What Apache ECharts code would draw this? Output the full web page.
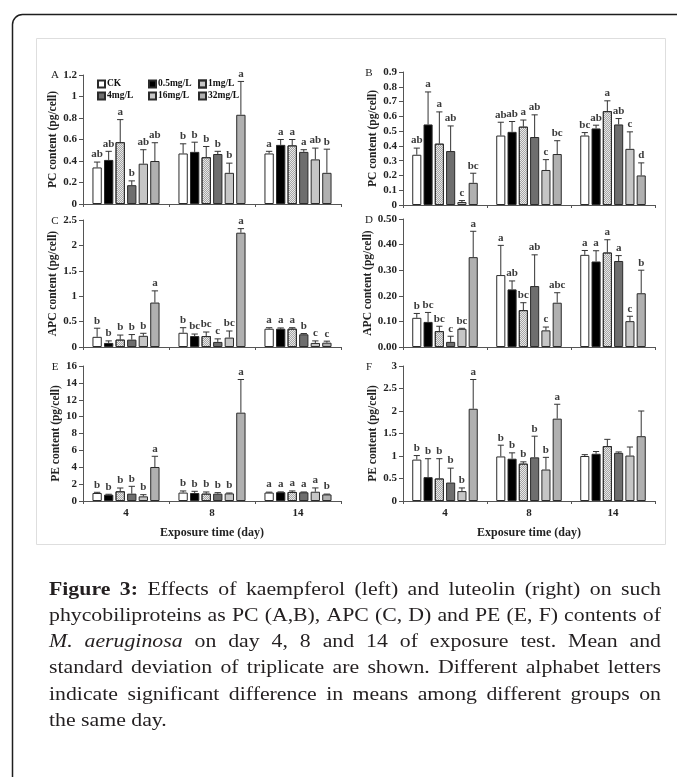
<!DOCTYPE html>
<html><head><meta charset="utf-8">
<script src="https://cdn.jsdelivr.net/npm/echarts@6/dist/echarts.min.js"></script>
<style>html,body{margin:0;padding:0;background:#fff}#c{width:677px;height:777px}</style>
</head><body><div id="c"></div>
<script>
// ---------- data ----------
const days = ['4', '8', '14'];
const groups = ['CK', '0.5mg/L', '1mg/L', '4mg/L', '16mg/L', '32mg/L'];

// rows = groups (CK .. 32mg/L), columns = days (4, 8, 14)
const A_mean = [[0.34,0.47,0.47],[0.41,0.485,0.55],[0.575,0.435,0.545],[0.175,0.465,0.485],[0.375,0.29,0.415],[0.40,0.83,0.29]];
const A_sd   = [[0.05,0.09,0.02],[0.08,0.09,0.05],[0.21,0.10,0.055],[0.04,0.025,0.02],[0.13,0.09,0.105],[0.17,0.31,0.22]];
const A_letters = [['ab','b','a'],['ab','b','a'],['a','b','a'],['b','b','a'],['ab','b','ab'],['ab','a','b']];

const B_mean = [[0.34,0.47,0.47],[0.545,0.495,0.518],[0.415,0.53,0.635],[0.365,0.46,0.545],[0.02,0.237,0.38],[0.15,0.345,0.2]];
const B_sd   = [[0.045,0.09,0.02],[0.22,0.07,0.022],[0.215,0.045,0.07],[0.17,0.15,0.04],[0.01,0.07,0.115],[0.065,0.09,0.085]];
const B_letters = [['ab','ab','bc'],['a','ab','ab'],['a','a','a'],['ab','ab','ab'],['c','c','c'],['bc','bc','d']];

const C_mean = [[0.2,0.28,0.36],[0.08,0.215,0.36],[0.145,0.215,0.36],[0.145,0.1,0.25],[0.22,0.185,0.08],[0.875,2.25,0.085]];
const C_sd   = [[0.17,0.1,0.02],[0.04,0.04,0.015],[0.09,0.08,0.02],[0.1,0.06,0.015],[0.05,0.13,0.04],[0.23,0.08,0.03]];
const C_letters = [['b','b','a'],['b','bc','a'],['b','bc','a'],['b','c','b'],['b','bc','c'],['a','a','c']];

const D_mean = [[0.114,0.281,0.36],[0.098,0.225,0.334],[0.062,0.144,0.369],[0.02,0.238,0.336],[0.071,0.065,0.101],[0.351,0.173,0.21]];
const D_sd   = [[0.017,0.116,0.017],[0.037,0.033,0.042],[0.019,0.029,0.05],[0.022,0.122,0.021],[0.002,0.013,0.019],[0.101,0.039,0.09]];
const D_letters = [['b','a','a'],['bc','ab','a'],['bc','bc','a'],['c','ab','a'],['bc','c','c'],['a','abc','b']];

const E_mean = [[0.95,1.0,1.0],[0.75,0.95,1.05],[1.15,0.87,1.07],[0.87,0.87,1.03],[0.55,0.9,1.1],[4.03,10.47,0.78]];
const E_sd   = [[0.08,0.19,0.05],[0.05,0.2,0.03],[0.39,0.2,0.12],[0.87,0.12,0.04],[0.2,0.05,0.45],[1.27,3.93,0.04]];
const E_letters = [['b','b','a'],['b','b','a'],['b','b','a'],['b','b','a'],['b','b','a'],['a','a','b']];

const F_mean = [[0.92,0.99,1.0],[0.53,0.94,1.05],[0.5,0.83,1.22],[0.41,0.97,1.07],[0.22,0.7,1.01],[2.05,1.83,1.44]];
const F_sd   = [[0.09,0.25,0.03],[0.41,0.13,0.05],[0.44,0.04,0.15],[0.32,0.47,0.02],[0.07,0.27,0.19],[0.65,0.32,0.56]];
const F_letters = [['b','b',''],['b','b',''],['b','b',''],['b','b',''],['b','b',''],['a','a','']];

const A_ticks = ['0','0.2','0.4','0.6','0.8','1','1.2'];
const B_ticks = ['0','0.1','0.2','0.3','0.4','0.5','0.6','0.7','0.8','0.9'];
const C_ticks = ['0','0.5','1','1.5','2','2.5'];
const D_ticks = ['0.00','0.10','0.20','0.30','0.40','0.50'];
const E_ticks = ['0','2','4','6','8','10','12','14','16'];
const F_ticks = ['0','0.5','1','1.5','2','2.5','3'];

const xTitle = 'Exposure time (day)';

// ---------- styling ----------
const serif = '"Liberation Serif", "Times New Roman", serif';
const fillColors = ['#ffffff', '#000000', '#e8e8e8', '#6e6e6e', '#c6c6c6', '#b0b0b0'];
const CAT_GAP = 0.22, BAR_GAP = 0.24;

const panels = [
  {tag:'A', mean:A_mean, sd:A_sd, letters:A_letters, ticks:A_ticks, yName:'PC content (pg/cell)',  grid:{left:83, top:75, width:258, height:129}, xLab:false, tagPos:[55,75]},
  {tag:'B', mean:B_mean, sd:B_sd, letters:B_letters, ticks:B_ticks, yName:'PC content (pg/cell)',  grid:{left:403, top:72, width:252, height:133}, xLab:false, tagPos:[369,73]},
  {tag:'C', mean:C_mean, sd:C_sd, letters:C_letters, ticks:C_ticks, yName:'APC content (pg/cell)', grid:{left:83, top:220, width:258, height:127}, xLab:false, tagPos:[55,221]},
  {tag:'D', mean:D_mean, sd:D_sd, letters:D_letters, ticks:D_ticks, yName:'APC content (pg/cell)', grid:{left:403, top:219, width:252, height:128}, xLab:false, tagPos:[369,220]},
  {tag:'E', mean:E_mean, sd:E_sd, letters:E_letters, ticks:E_ticks, yName:'PE content (pg/cell)',  grid:{left:83, top:366, width:258, height:135}, xLab:true, tagPos:[55,367]},
  {tag:'F', mean:F_mean, sd:F_sd, letters:F_letters, ticks:F_ticks, yName:'PE content (pg/cell)',  grid:{left:403, top:366, width:252, height:135}, xLab:true, tagPos:[369,367]}
];

const grids = [], xAxes = [], yAxes = [], series = [], graphics = [];

panels.forEach((p, pi) => {
  grids.push(Object.assign({outerBoundsMode:'none', containLabel:false}, p.grid));
  xAxes.push({
    type:'category', gridIndex:pi, data:days,
    axisLine:{show:true, lineStyle:{color:'#555', width:1}},
    axisTick:{show:true, length:3, inside:false, lineStyle:{color:'#555'}},
    axisLabel:{show:p.xLab, margin:7, fontFamily:serif, fontWeight:'bold', fontSize:11, color:'#222'},
    name:p.xLab ? xTitle : '', nameLocation:'middle', nameGap:26,
    nameTextStyle:{fontFamily:serif, fontWeight:'bold', fontSize:12, color:'#222'}
  });
  const interval = parseFloat(p.ticks[1]);
  const max = parseFloat(p.ticks[p.ticks.length - 1]);
  yAxes.push({
    type:'value', gridIndex:pi, min:0, max:max, interval:interval,
    axisLine:{show:true, lineStyle:{color:'#555', width:1}},
    axisTick:{show:true, length:4, lineStyle:{color:'#555'}},
    splitLine:{show:false},
    axisLabel:{margin:6, fontFamily:serif, fontWeight:'bold', fontSize:11, color:'#222',
      formatter:(v) => p.ticks[Math.round(v / interval)]},
    name:p.yName, nameLocation:'middle', nameGap:21, nameRotate:90,
    nameTextStyle:{fontFamily:serif, fontWeight:'bold', fontSize:11.5, color:'#222'}
  });
  groups.forEach((g, gi) => {
    const itemStyle = {color:fillColors[gi], borderColor:'#2a2a2a', borderWidth:1};
    if (gi === 2) {
      itemStyle.decal = {symbol:'rect', symbolSize:1, color:'#a6a6a6',
        dashArrayX:[[1,1],[0,1,1,0]], dashArrayY:[1,0], rotation:0};
    }
    series.push({
      type:'bar', name:g, xAxisIndex:pi, yAxisIndex:pi, data:p.mean[gi],
      barCategoryGap:(CAT_GAP*100)+'%', barGap:(BAR_GAP*100)+'%',
      itemStyle:itemStyle, silent:true, animation:false
    });
  });
  // error bars + significance letters
  const ebData = [];
  groups.forEach((g, gi) => days.forEach((d, di) => ebData.push([di, gi, p.mean[gi][di], p.sd[gi][di]])));
  series.push({
    type:'custom', name:'err'+p.tag, xAxisIndex:pi, yAxisIndex:pi, silent:true, animation:false, z:5,
    dimensions:['day','grp','mean','sd'], encode:{x:0, y:2}, data:ebData, clip:false,
    renderItem:(params, api) => {
      const di = api.value(0), gi = api.value(1), m = api.value(2), s = api.value(3);
      const band = api.size([1, 0])[0];
      const usable = band * (1 - CAT_GAP);
      const bw = usable / (6 + 5 * BAR_GAP);
      const base = api.coord([di, m]);
      const top = api.coord([di, m + s])[1];
      const x = base[0] - usable / 2 + gi * bw * (1 + BAR_GAP) + bw / 2;
      const cap = bw * 0.34;
      const letter = p.letters[gi][di];
      const ls = {stroke:'#333', lineWidth:1};
      const ch = [
        {type:'line', shape:{x1:x, y1:base[1], x2:x, y2:top}, style:ls},
        {type:'line', shape:{x1:x-cap, y1:top, x2:x+cap, y2:top}, style:ls}
      ];
      if (letter) ch.push({type:'text', x:x, y:top-2, style:{text:letter, align:'center', verticalAlign:'bottom',
        font:'bold 11px ' + serif, fill:'#3a3a3a'}});
      return {type:'group', children:ch};
    }
  });
  graphics.push({type:'text', x:p.tagPos[0], y:p.tagPos[1], style:{text:p.tag, align:'center', verticalAlign:'middle',
    font:'11px ' + serif, fill:'#222'}});
});

// legends (3 columns, 2 rows) in panel A
const legendCols = [97, 148, 198], legendRows = [79, 91];
const legends = groups.map((g, gi) => ({
  data:[g], left:legendCols[gi % 3], top:legendRows[Math.floor(gi / 3)], padding:0,
  icon:'rect', itemWidth:7, itemHeight:7, selectedMode:false,
  textStyle:{fontFamily:serif, fontWeight:'bold', fontSize:9.5, color:'#111', padding:[0,0,0,-3]}
}));

// frames
graphics.push({type:'rect', shape:{x:12.5, y:14.5, width:720, height:800, r:10}, style:{fill:'none', stroke:'#1e1e1e', lineWidth:1.5}, silent:true});
graphics.push({type:'rect', shape:{x:36.5, y:38.5, width:629, height:506}, style:{fill:'none', stroke:'#dedede', lineWidth:1}, silent:true});

// caption (justified)
const capLines = [
  {j:true, w:[['Figure','b'],['3:','b'],['Effects'],['of'],['kaempferol'],['(left)'],['and'],['luteolin'],['(right)'],['on'],['such']]},
  {j:true, w:'phycobiliproteins as PC (A,B), APC (C, D) and PE (E, F) contents of'.split(' ').map(s => [s])},
  {j:true, w:[['M.','i'],['aeruginosa','i']].concat('on day 4, 8 and 14 of exposure test. Mean and'.split(' ').map(s => [s]))},
  {j:true, w:'standard deviation of triplicate are shown. Different alphabet letters'.split(' ').map(s => [s])},
  {j:true, w:'indicate significant difference in means among different groups on'.split(' ').map(s => [s])},
  {j:false, w:'the same day.'.split(' ').map(s => [s])}
];
const capLeft = 49, capRight = 661, capY0 = 590, capDy = 26.2, capSize = 18;
const mctx = document.createElement('canvas').getContext('2d');
const fontOf = (st) => (st === 'i' ? 'italic ' : '') + (st === 'b' ? 'bold ' : '') + capSize + 'px ' + serif;
mctx.font = fontOf();
const spaceW = mctx.measureText(' ').width;
const lineInfo = capLines.map(ln => {
  const widths = ln.w.map(([t, st]) => { mctx.font = fontOf(st); return mctx.measureText(t).width; });
  const sum = widths.reduce((a, b) => a + b, 0);
  return {widths, sum, natural: sum + spaceW * (ln.w.length - 1)};
});
// widen glyphs so the tightest lines fill the column like the original typeface
const sx = 604 / Math.max(lineInfo[1].natural, lineInfo[3].natural);
capLines.forEach((ln, li) => {
  const info = lineInfo[li];
  let gap = spaceW * sx;
  if (ln.j) gap = (capRight - capLeft - info.sum * sx) / (ln.w.length - 1);
  let x = capLeft;
  ln.w.forEach(([t, st], k) => {
    graphics.push({type:'text', x:x, y:capY0 + li * capDy, scaleX:sx, silent:true,
      style:{text:t, font:fontOf(st), fill:'#231f20', align:'left', verticalAlign:'middle'}});
    x += info.widths[k] * sx + gap;
  });
});

const chart = echarts.init(document.getElementById('c'), null, {renderer:'canvas'});
chart.setOption({
  backgroundColor:'#ffffff', animation:false,
  grid:grids, xAxis:xAxes, yAxis:yAxes, legend:legends, series:series, graphic:graphics
});
</script>
</body></html>
